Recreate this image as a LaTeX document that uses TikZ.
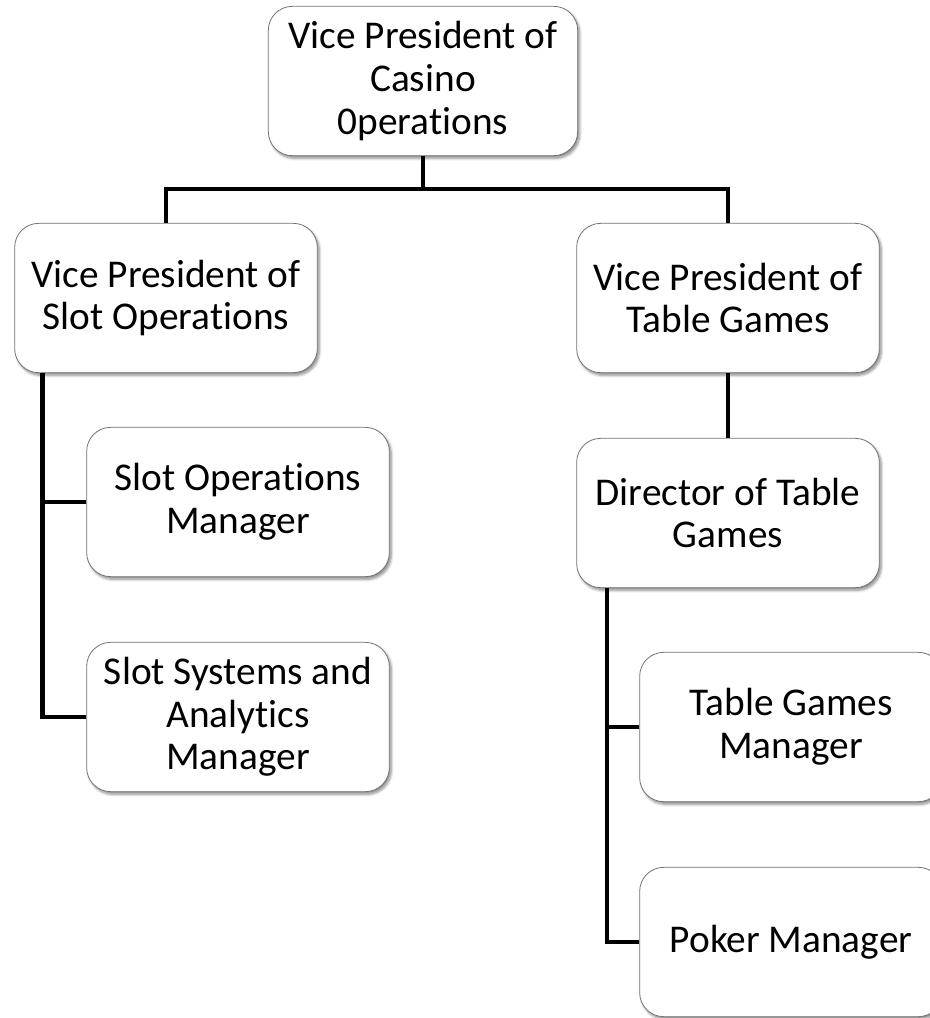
\documentclass[tikz,border=0pt]{standalone}
\usepackage{fontspec}
\setmainfont[Ligatures=NoCommon]{Carlito}
\usetikzlibrary{shadows.blur}

\begin{document}
\begin{tikzpicture}[x=0.75pt, y=-0.75pt]
    \tikzset{box/.style={draw=black!55, line width=0.6pt, fill=white, rounded corners=18pt,
                         minimum width=227pt, minimum height=112pt, align=center,
                         font=\fontsize{29.5}{32}\selectfont,
                         blur shadow={shadow xshift=1.5pt, shadow yshift=-2pt, shadow blur steps=6, shadow opacity=45}},
             link/.style={line width=3.6pt}}
    \useasboundingbox (0,0) rectangle (930,1018);
    % the boxes
    \node[box, minimum width=232pt] (casino) at (423,81) {Vice President of\\Casino\\0perations};
    \node[box] (slotvp) at (166,298) {Vice President of\\Slot Operations};
    \node[box] (tablevp) at (728,298) {Vice President of\\Table Games};
    \node[box] (slotops) at (238,502) {Slot Operations\\Manager};
    \node[box] (slotsys) at (238,717) {Slot Systems and\\Analytics\\Manager};
    \node[box] (director) at (728,513) {Director of Table\\Games};
    \node[box] (tablemgr) at (791,727) {Table Games\\Manager};
    \node[box] (poker) at (791,942) {Poker Manager};
    % the lines
    \coordinate (slotbus) at ([xshift=21pt]slotvp.south west);
    \coordinate (tablebus) at ([xshift=23pt]director.south west);
    \draw[link] (casino.south) -- ++(0,33) -| (slotvp.north);
    \draw[link] (casino.south) -- ++(0,33) -| (tablevp.north);
    \draw[link] (tablevp.south) -- (director.north);
    \draw[link] (slotbus) |- (slotsys.west);
    \draw[link] (slotops.west) -- (slotops.west -| slotbus);
    \draw[link] (tablebus) |- (poker.west);
    \draw[link] (tablemgr.west) -- (tablemgr.west -| tablebus);
\end{tikzpicture}
\end{document}
